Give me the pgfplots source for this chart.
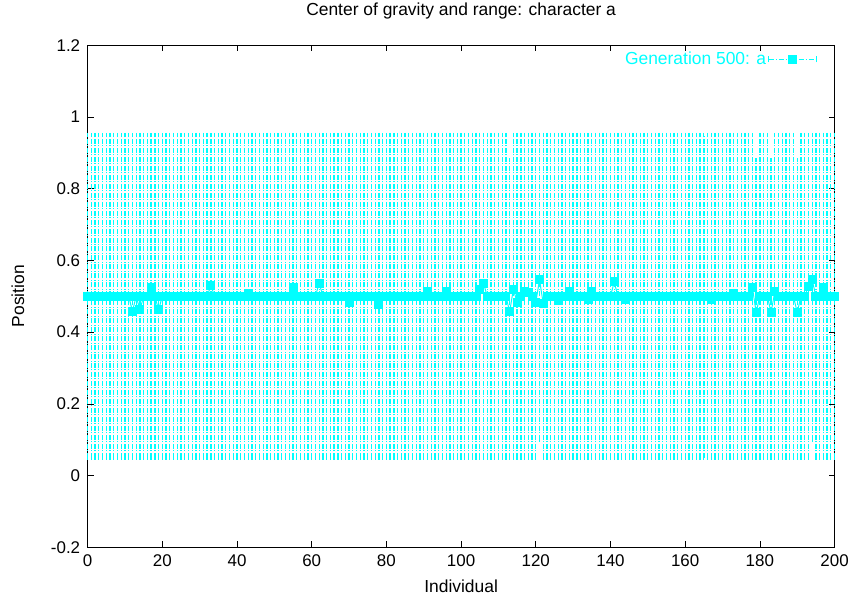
\documentclass[border=0pt]{standalone}
\usepackage{fontspec}
\setmainfont{Liberation Sans}
\usepackage{pgfplots}
\pgfplotsset{compat=1.18}
\usepackage{pgfplotstable}
\definecolor{gc}{RGB}{0,255,255}
\pgfplotstableread[row sep=\\]{
x y lo hi\\
0 0.5 0.05 0.95\\ 1 0.5 0.05 0.95\\ 2 0.5 0.05 0.95\\ 3 0.5 0.05 0.95\\ 4 0.5 0.05 0.95\\
5 0.5 0.05 0.95\\ 6 0.5 0.05 0.95\\ 7 0.5 0.05 0.95\\ 8 0.5 0.05 0.95\\ 9 0.5 0.05 0.95\\
10 0.5 0.05 0.95\\ 11 0.5 0.05 0.95\\ 12 0.458 0.05 0.95\\ 13 0.5 0.05 0.95\\ 14 0.462 0.05 0.95\\
15 0.5 0.05 0.95\\ 16 0.5 0.05 0.95\\ 17 0.525 0.05 0.95\\ 18 0.5 0.05 0.95\\ 19 0.462 0.05 0.95\\
20 0.5 0.05 0.95\\ 21 0.5 0.05 0.95\\ 22 0.5 0.05 0.95\\ 23 0.5 0.05 0.95\\ 24 0.5 0.05 0.95\\
25 0.5 0.05 0.95\\ 26 0.5 0.05 0.95\\ 27 0.5 0.05 0.95\\ 28 0.5 0.05 0.95\\ 29 0.5 0.05 0.95\\
30 0.5 0.05 0.95\\ 31 0.5 0.05 0.95\\ 32 0.5 0.05 0.95\\ 33 0.53 0.05 0.95\\ 34 0.5 0.05 0.95\\
35 0.5 0.05 0.95\\ 36 0.5 0.05 0.95\\ 37 0.5 0.05 0.95\\ 38 0.5 0.05 0.95\\ 39 0.5 0.05 0.95\\
40 0.5 0.05 0.95\\ 41 0.5 0.05 0.95\\ 42 0.5 0.05 0.95\\ 43 0.507 0.05 0.95\\ 44 0.5 0.05 0.95\\
45 0.5 0.05 0.95\\ 46 0.5 0.05 0.95\\ 47 0.5 0.05 0.95\\ 48 0.5 0.05 0.95\\ 49 0.5 0.05 0.95\\
50 0.5 0.05 0.95\\ 51 0.5 0.05 0.95\\ 52 0.5 0.05 0.95\\ 53 0.5 0.05 0.95\\ 54 0.5 0.05 0.95\\
55 0.525 0.05 0.95\\ 56 0.5 0.05 0.95\\ 57 0.5 0.05 0.95\\ 58 0.5 0.05 0.95\\ 59 0.5 0.05 0.95\\
60 0.5 0.05 0.95\\ 61 0.5 0.05 0.95\\ 62 0.537 0.05 0.95\\ 63 0.5 0.05 0.95\\ 64 0.5 0.05 0.95\\
65 0.5 0.05 0.95\\ 66 0.5 0.05 0.95\\ 67 0.5 0.05 0.95\\ 68 0.5 0.05 0.95\\ 69 0.5 0.05 0.95\\
70 0.483 0.05 0.95\\ 71 0.5 0.05 0.95\\ 72 0.5 0.05 0.95\\ 73 0.5 0.05 0.95\\ 74 0.5 0.05 0.95\\
75 0.5 0.05 0.95\\ 76 0.5 0.05 0.95\\ 77 0.5 0.05 0.95\\ 78 0.478 0.05 0.95\\ 79 0.5 0.05 0.95\\
80 0.5 0.05 0.95\\ 81 0.5 0.05 0.95\\ 82 0.5 0.05 0.95\\ 83 0.5 0.05 0.95\\ 84 0.5 0.05 0.95\\
85 0.5 0.05 0.95\\ 86 0.5 0.05 0.95\\ 87 0.5 0.05 0.95\\ 88 0.5 0.05 0.95\\ 89 0.5 0.05 0.95\\
90 0.5 0.05 0.95\\ 91 0.513 0.05 0.95\\ 92 0.5 0.05 0.95\\ 93 0.5 0.05 0.95\\ 94 0.5 0.05 0.95\\
95 0.5 0.05 0.95\\ 96 0.513 0.05 0.95\\ 97 0.5 0.05 0.95\\ 98 0.5 0.05 0.95\\ 99 0.5 0.05 0.95\\
100 0.5 0.05 0.95\\ 101 0.5 0.05 0.95\\ 102 0.5 0.05 0.95\\ 103 0.5 0.05 0.95\\ 104 0.5 0.05 0.95\\
105 0.52 0.05 0.95\\ 106 0.537 0.05 0.95\\ 107 0.5 0.05 0.95\\ 108 0.5 0.05 0.95\\ 109 0.5 0.05 0.95\\
110 0.5 0.05 0.95\\ 111 0.5 0.05 0.95\\ 112 0.5 0.05 0.95\\ 113 0.457 0.05 0.88\\ 114 0.52 0.05 0.95\\
115 0.483 0.05 0.95\\ 116 0.5 0.05 0.95\\ 117 0.513 0.05 0.95\\ 118 0.51 0.05 0.95\\ 119 0.5 0.05 0.95\\
120 0.483 0.05 0.95\\ 121 0.546 0.1 0.95\\ 122 0.479 0.05 0.95\\ 123 0.5 0.05 0.95\\ 124 0.5 0.05 0.95\\
125 0.5 0.05 0.95\\ 126 0.488 0.05 0.95\\ 127 0.5 0.05 0.95\\ 128 0.5 0.05 0.95\\ 129 0.513 0.05 0.95\\
130 0.5 0.05 0.95\\ 131 0.5 0.05 0.95\\ 132 0.5 0.05 0.95\\ 133 0.5 0.05 0.95\\ 134 0.49 0.05 0.95\\
135 0.513 0.05 0.95\\ 136 0.5 0.05 0.95\\ 137 0.5 0.05 0.95\\ 138 0.5 0.05 0.95\\ 139 0.5 0.05 0.95\\
140 0.5 0.05 0.95\\ 141 0.54 0.05 0.95\\ 142 0.5 0.05 0.95\\ 143 0.5 0.05 0.95\\ 144 0.49 0.05 0.95\\
145 0.5 0.05 0.95\\ 146 0.5 0.05 0.95\\ 147 0.5 0.05 0.95\\ 148 0.5 0.05 0.95\\ 149 0.5 0.05 0.95\\
150 0.5 0.05 0.95\\ 151 0.5 0.05 0.95\\ 152 0.5 0.05 0.95\\ 153 0.5 0.05 0.95\\ 154 0.5 0.05 0.95\\
155 0.5 0.05 0.95\\ 156 0.5 0.05 0.95\\ 157 0.5 0.05 0.95\\ 158 0.5 0.05 0.95\\ 159 0.5 0.05 0.95\\
160 0.5 0.05 0.95\\ 161 0.5 0.05 0.95\\ 162 0.5 0.05 0.95\\ 163 0.5 0.05 0.95\\ 164 0.5 0.05 0.95\\
165 0.5 0.05 0.95\\ 166 0.5 0.05 0.95\\ 167 0.49 0.05 0.95\\ 168 0.5 0.05 0.95\\ 169 0.5 0.05 0.95\\
170 0.5 0.05 0.95\\ 171 0.5 0.05 0.95\\ 172 0.5 0.05 0.95\\ 173 0.507 0.05 0.95\\ 174 0.5 0.05 0.95\\
175 0.5 0.05 0.95\\ 176 0.5 0.05 0.95\\ 177 0.5 0.05 0.95\\ 178 0.525 0.05 0.95\\ 179 0.455 0.05 0.88\\
180 0.5 0.05 0.95\\ 181 0.5 0.05 0.95\\ 182 0.5 0.05 0.95\\ 183 0.455 0.05 0.88\\ 184 0.513 0.05 0.95\\
185 0.5 0.05 0.95\\ 186 0.5 0.05 0.95\\ 187 0.5 0.05 0.95\\ 188 0.5 0.05 0.95\\ 189 0.5 0.05 0.95\\
190 0.455 0.05 0.88\\ 191 0.5 0.05 0.95\\ 192 0.5 0.05 0.95\\ 193 0.528 0.05 0.95\\ 194 0.546 0.1 0.95\\
195 0.5 0.05 0.95\\ 196 0.5 0.05 0.95\\ 197 0.525 0.05 0.95\\ 198 0.5 0.05 0.95\\ 199 0.5 0.05 0.95\\
200 0.5 0.05 0.95\\
}\data
\begin{document}
\begin{tikzpicture}
\begin{axis}[
  scale only axis, width=750pt, height=504pt,
  xmin=0, xmax=200, ymin=-0.2, ymax=1.2,
  xtick={0,20,40,60,80,100,120,140,160,180,200},
  ytick={-0.2,0,0.2,0.4,0.6,0.8,1,1.2},
  yticklabels={-0.2,0,0.2,0.4,0.6,0.8,1,1.2},
  /pgf/number format/assume math mode=true,
  tick align=inside, major tick length=6pt,
  tick style={black, line width=0.6pt},
  axis line style={black, line width=0.8pt},
  font=\fontsize{17.5}{20}\selectfont,
  ticklabel style={font=\fontsize{17}{20}\selectfont},
  yticklabel style={xshift=-4pt},
  xticklabel style={yshift=-4pt},
  title={Center of gravity and range: character a},
  title style={at={(axis description cs:0.5,1.0556)}, anchor=center},
  xlabel={Individual},
  xlabel style={at={(axis description cs:0.5,-0.0774)}, anchor=center},
  ylabel={Position},
  ylabel style={at={(axis description cs:-0.0933,0.5)}, anchor=center},
  clip=false,
  legend plot pos=right,
  legend style={draw=none, fill=none, at={(axis description cs:0.977,0.972)}, anchor=east, inner sep=0pt,
    font=\fontsize{17.5}{20}\selectfont, text=gc},
  legend image code/.code={
    \draw[gc, line width=1.2pt, dash pattern=on 5pt off 2pt on 1pt off 2pt] (0pt,0pt) -- (48pt,0pt);
    \draw[gc, line width=1.2pt, solid] (0pt,-3pt) -- (0pt,3pt) (48pt,-3pt) -- (48pt,3pt);
    \fill[gc] (20pt,-4pt) rectangle (28pt,4pt);
  },
]
% range bars, drawn upward from the low end of each range
\addplot[draw=none, forget plot,
  error bars/.cd, y dir=both, y explicit,
  error bar style={gc, line width=1.3pt, dash pattern=on 5pt off 1.5pt on 1pt off 1.5pt},
  error mark options={gc, mark size=2.2pt, solid, line width=1.3pt}]
  table[x=x, y=lo, y error plus expr=\thisrow{hi}-\thisrow{lo}, y error minus expr=0]{\data};
% centres of gravity
\addplot[gc, line width=1pt, mark=square*, mark size=4pt, mark options={solid, fill=gc, draw=gc}]
  table[x=x, y=y]{\data};
\addlegendentry{Generation 500: a\hspace{9pt}}
\end{axis}
\path (current axis.south west) ++(-88pt,-51pt) rectangle ++(852pt,597pt);
\end{tikzpicture}
\end{document}
